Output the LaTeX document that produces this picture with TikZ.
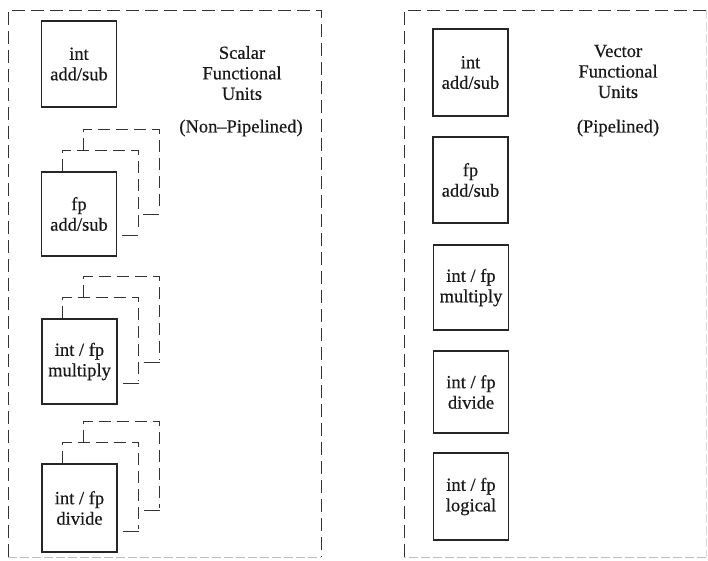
\documentclass[tikz,border=0pt]{standalone}
\usepackage{fontspec}
\setmainfont{Liberation Serif}[BoldFont={Liberation Serif},BoldFeatures={FakeBold=0.5}]
\begin{document}
\begin{tikzpicture}[x=1pt,y=-1pt,
  txt/.style={font=\fontsize{18.5}{20.5}\selectfont\bfseries, text=black!90, align=center, inner sep=0pt},
  unit/.style={txt, draw=black!85, line width=1.3pt, minimum width=75pt, minimum height=85pt},
  frame/.style={draw=black!80, line width=1pt, dash pattern=on 13pt off 6pt},
  faint/.style={draw=black!25, line width=0.8pt, dash pattern=on 9pt off 3pt},
  layer/.style={draw=black!80, line width=1pt, dash pattern=on 12pt off 6pt},
  stub/.style={draw=black!80, line width=1pt}
]
\useasboundingbox (0,0) rectangle (708,560);

% frames
\coordinate (LA) at (8,557);
\coordinate (LB) at (8,10);
\coordinate (LC) at (321,10);
\coordinate (LD) at (321,557);
\draw[frame] (LA) -- (LB) -- (LC) -- (LD);
\draw[faint] (LA) -- (LD);
\coordinate (RA) at (404,557);
\coordinate (RB) at (404,10);
\coordinate (RC) at (706,10);
\coordinate (RD) at (706,557);
\draw[frame] (RA) -- (RB) -- (RC);
\draw[faint, draw=black!15] (RC) -- (RD);
\draw[faint] (RD) -- (RA);

% scalar units
\node[unit, minimum height=86pt] (s1) at (79,64) {int\\add/sub};
\node[unit, minimum height=84pt] (s2) at (79,214) {fp\\add/sub};
\node[unit, minimum height=85pt] (s3) at (79.5,361.5) {int / fp\\multiply};
\node[unit, minimum height=88pt] (s4) at (79.5,508) {int / fp\\divide};

% pipelined copies (dashed layers)
\foreach \b in {s2,s3,s4}{
  \draw[layer] ([xshift=-17pt]\b.north) -- ++(0,-21) -| ([xshift=21pt,yshift=24pt]\b.south east);
  \draw[stub] ([xshift=5pt,yshift=21pt]\b.south east) -- ([xshift=21pt,yshift=21pt]\b.south east);
  \draw[layer] ([xshift=4pt,yshift=21pt]\b.north) -- ++(0,-21) -| ([xshift=42pt,yshift=45pt]\b.south east);
  \draw[stub] ([xshift=26pt,yshift=42pt]\b.south east) -- ([xshift=42pt,yshift=42pt]\b.south east);
}

\node[txt] (st) at (242,73) {Scalar\\Functional\\Units};
\node[txt] (sp) at (241,128) {(Non–Pipelined)};

% vector units
\node[unit, minimum height=87pt] (v1) at (470.5,72.5) {int\\add/sub};
\node[unit, minimum height=86pt] (v2) at (470.5,180) {fp\\add/sub};
\node[unit, minimum height=85pt] (v3) at (471,287.5) {int / fp\\multiply};
\node[unit, minimum height=82pt] (v4) at (471,392) {int / fp\\divide};
\node[unit, minimum height=87pt] (v5) at (471,496.5) {int / fp\\logical};

\node[txt] (vt) at (618,71.5) {Vector\\Functional\\Units};
\node[txt] (vp) at (618,128) {(Pipelined)};
\end{tikzpicture}
\end{document}
